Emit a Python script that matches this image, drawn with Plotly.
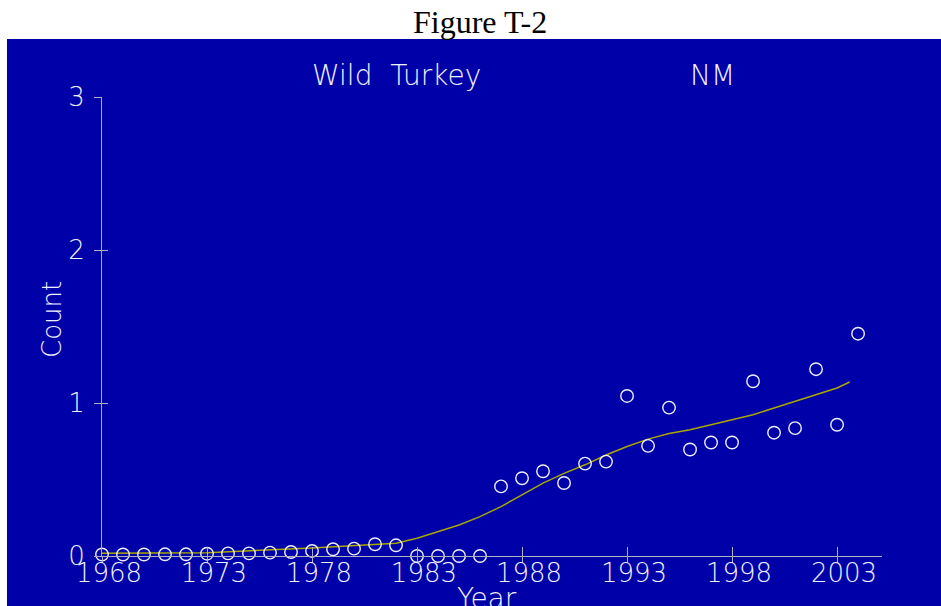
import plotly.graph_objects as go

# ---- data ----
years = list(range(1968, 2005))
counts = [0.01, 0.01, 0.01, 0.011, 0.011, 0.015, 0.017, 0.017, 0.022, 0.026,
          0.033, 0.044, 0.048, 0.077, 0.070, 0.0, 0.0, 0.0, 0.0, 0.455,
          0.508, 0.554, 0.477, 0.604, 0.617, 1.046, 0.720, 0.970, 0.696, 0.742,
          0.742, 1.142, 0.806, 0.836, 1.221, 0.858, 1.453]

trend_years = [1968, 1973, 1978, 1982, 1983, 1984, 1985, 1986, 1987, 1988, 1989,
               1990, 1991, 1992, 1993, 1994, 1995, 1996, 1997, 1998, 1999,
               2000, 2001, 2002, 2003, 2003.6]
trend_vals = [0.018, 0.022, 0.052, 0.083, 0.116, 0.160, 0.203, 0.257, 0.323, 0.400,
              0.476, 0.540, 0.596, 0.660, 0.716, 0.764, 0.800, 0.825, 0.858, 0.890,
              0.923, 0.967, 1.010, 1.054, 1.098, 1.137]

x_ticks = [1968, 1973, 1978, 1983, 1988, 1993, 1998, 2003]
y_ticks = [0, 1, 2, 3]

BLUE = "#0000A8"
TEXT = "#F0F0FF"
AXIS = "#B0B0C0"
TREND = "#A8A800"
FONT = "DejaVu Sans"

x_range = [1968, 2005.14]
y_range = [0, 3]
label_shift = 0.33  # tick labels sit slightly right of their ticks in the reference

fig = go.Figure()

fig.add_trace(go.Scatter(
    x=trend_years, y=trend_vals, mode="lines",
    line=dict(color=TREND, width=1.5), cliponaxis=False, hoverinfo="skip",
    showlegend=False))

fig.add_trace(go.Scatter(
    x=years, y=counts, mode="markers",
    marker=dict(symbol="circle-open", size=12.5, color=TEXT,
                line=dict(color=TEXT, width=1.4)),
    cliponaxis=False, showlegend=False))

# blue chart panel
fig.add_shape(type="rect", xref="paper", yref="paper",
              x0=(7 - 102) / 780, x1=(941 - 102) / 780,
              y0=-50 / 459, y1=(556 - 39) / 459,
              fillcolor=BLUE, line=dict(width=0), layer="below")

tickfont = dict(family=FONT, size=26, color=TEXT, weight=200)

fig.update_layout(
    width=941, height=606,
    margin=dict(l=102, r=59, t=97, b=50),
    paper_bgcolor="white", plot_bgcolor=BLUE,
    xaxis=dict(range=x_range, tickvals=x_ticks, ticks="outside", ticklen=6,
               tickcolor=AXIS, tickwidth=1, showline=True, linecolor=AXIS,
               linewidth=1, showgrid=False, zeroline=False,
               showticklabels=False),
    xaxis2=dict(range=x_range, overlaying="x", tickvals=x_ticks, ticks="inside",
                ticklen=9, tickcolor=AXIS, tickwidth=1, showline=False,
                showgrid=False, zeroline=False, showticklabels=False,
                side="bottom"),
    xaxis3=dict(range=[x_range[0] - label_shift, x_range[1] - label_shift],
                overlaying="x", tickvals=x_ticks, ticks="", showline=False,
                showgrid=False, zeroline=False, tickfont=tickfont,
                side="bottom", ticklabelstandoff=-1),
    yaxis=dict(range=y_range, tickvals=y_ticks, ticks="outside", ticklen=7,
               tickcolor=AXIS, tickwidth=1, showline=True, linecolor=AXIS,
               linewidth=1, showgrid=False, zeroline=False, tickfont=tickfont,
               ticklabelstandoff=4),
    yaxis2=dict(range=y_range, overlaying="y", tickvals=y_ticks, ticks="inside",
                ticklen=6, tickcolor=AXIS, tickwidth=1, showline=False,
                showgrid=False, zeroline=False, showticklabels=False,
                side="left"),
)

# invisible traces to activate overlay axes (crossing tick marks, shifted labels)
fig.add_trace(go.Scatter(x=[x_ticks[0]], y=[y_ticks[0]], xaxis="x2", yaxis="y2",
                         mode="markers", marker=dict(opacity=0),
                         showlegend=False, hoverinfo="skip"))
fig.add_trace(go.Scatter(x=[x_ticks[0]], y=[y_ticks[0]], xaxis="x3", yaxis="y",
                         mode="markers", marker=dict(opacity=0),
                         showlegend=False, hoverinfo="skip"))

annfont = dict(family=FONT, size=28, color=TEXT, weight=200)
fig.add_annotation(text="Figure T-2", xref="paper", yref="paper",
                   x=(480 - 102) / 780, y=(556 - 22) / 459, showarrow=False,
                   font=dict(family="Liberation Serif", size=32, color="black"),
                   xanchor="center", yanchor="middle")
fig.add_annotation(text="Wild  Turkey", xref="paper", yref="paper",
                   x=(396 - 102) / 780, y=(556 - 75) / 459, showarrow=False,
                   font=annfont, xanchor="center", yanchor="middle")
fig.add_annotation(text="NM", xref="paper", yref="paper",
                   x=(712 - 102) / 780, y=(556 - 75) / 459, showarrow=False,
                   font=annfont, xanchor="center", yanchor="middle")
fig.add_annotation(text="Count", xref="paper", yref="paper",
                   x=(52 - 102) / 780, y=(556 - 320) / 459, showarrow=False,
                   font=dict(family=FONT, size=26, color=TEXT, weight=200),
                   textangle=-90, xanchor="center", yanchor="middle")
fig.add_annotation(text="Year", xref="paper", yref="paper",
                   x=(487 - 102) / 780, y=(556 - 598) / 459, showarrow=False,
                   font=annfont, xanchor="center", yanchor="middle")

fig.write_html("out.html")
